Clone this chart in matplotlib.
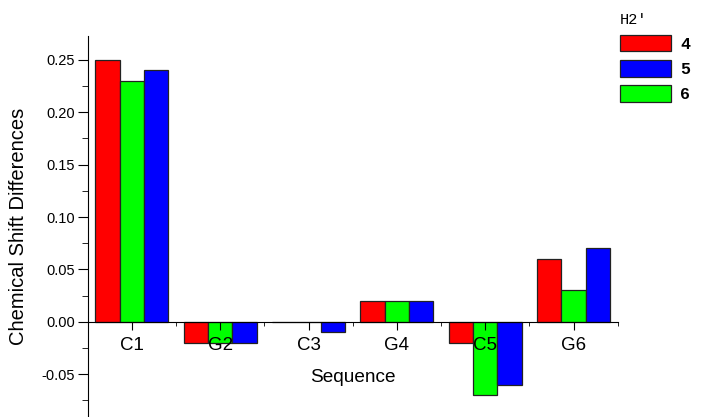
import numpy as np
from matplotlib import pyplot as plt
from matplotlib.ticker import MultipleLocator

# dati
sequenza = ["C1", "G2", "C3", "G4", "C5", "G6"]
serie_4 = [0.25, -0.02, 0.0, 0.02, -0.02, 0.06]
serie_6 = [0.23, -0.02, 0.0, 0.02, -0.07, 0.03]
serie_5 = [0.24, -0.02, -0.01, 0.02, -0.06, 0.07]

plt.rcParams['font.family'] = ['Liberation Sans', 'DejaVu Sans']

fig = plt.figure(figsize=(7.02, 4.17), dpi=100)
ax = fig.add_axes([0.125, 0.0, 0.755, 0.914])

x = np.arange(len(sequenza))
w = 0.275
b4 = ax.bar(x - w, serie_4, w, color="#ff0000", edgecolor="#222222", linewidth=0.9, label="4")
b6 = ax.bar(x, serie_6, w, color="#00ff00", edgecolor="#222222", linewidth=0.9, label="6")
b5 = ax.bar(x + w, serie_5, w, color="#0000ff", edgecolor="#222222", linewidth=0.9, label="5")

ax.set_xlim(-0.5, 5.5)
ax.set_ylim(-0.091, 0.273)

# asse x sullo zero
ax.spines['bottom'].set_position(('data', 0))
ax.spines['top'].set_visible(False)
ax.spines['right'].set_visible(False)

ax.set_xticks(x)
ax.set_xticklabels(sequenza, fontsize=13.5)
ax.set_xticks(np.arange(-0.5, 6.0, 1.0), minor=True)
ax.tick_params(axis="x", which="minor", direction="out", length=3)
ax.tick_params(axis="x", which="major", direction="out", length=6, pad=5)

ax.yaxis.set_minor_locator(MultipleLocator(0.025))
ax.set_yticks([-0.05, 0.0, 0.05, 0.10, 0.15, 0.20, 0.25])
ax.set_yticklabels(["-0.05", "0.00", "0.05", "0.10", "0.15", "0.20", "0.25"], fontsize=10.5)
ax.tick_params(axis="y", which="major", length=7, pad=2)
ax.tick_params(axis="y", which="minor", length=4)

ax.set_xlabel("Sequence", fontsize=13.7, labelpad=11)
ax.set_ylabel("Chemical Shift Differences", fontsize=14.5)
ax.yaxis.set_label_coords(-0.113, 0.5)

leg = fig.legend(handles=[b4, b5, b6], labels=["4", "5", "6"],
                 title="H2'", loc="upper left", bbox_to_anchor=(620 / 702, 1 - 12.5 / 417),
                 frameon=False, borderpad=0, borderaxespad=0,
                 handlelength=3.06, handleheight=1.15,
                 handletextpad=0.55, labelspacing=0.5,
                 prop={"family": "Liberation Mono", "weight": "bold", "size": 12})
leg.get_title().set_family("Liberation Mono")
leg.get_title().set_fontsize(11)
leg._legend_box.align = "left"

fig.savefig("out.png", dpi=100)
